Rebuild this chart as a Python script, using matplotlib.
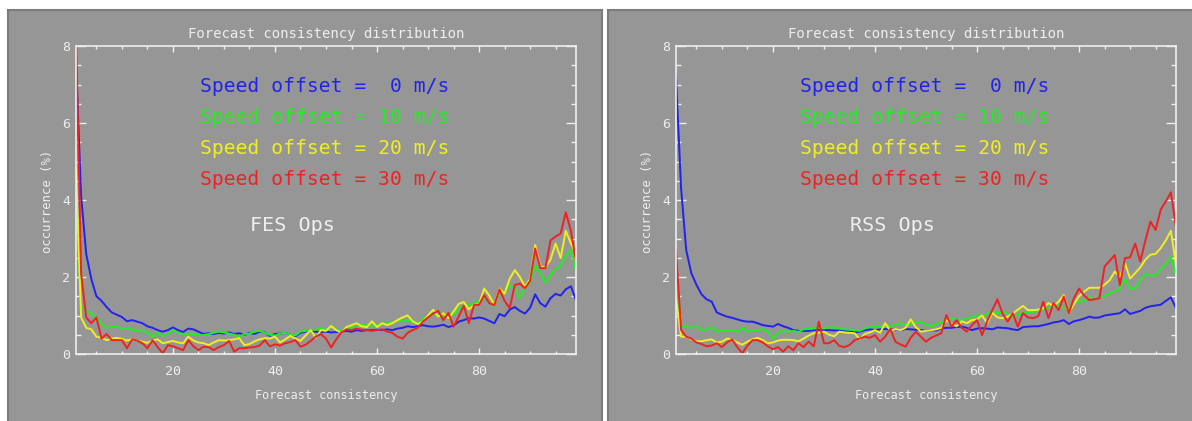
import numpy as np
import matplotlib
matplotlib.use("Agg")
import matplotlib.pyplot as plt
from matplotlib.patches import Rectangle
from matplotlib.ticker import MultipleLocator

# forecast consistency bins
consistency = np.arange(1, 100)

offsets = [0, 10, 20, 30]
line_colors = ["#2222ee", "#22ee22", "#eeee22", "#ee2222"]

# FES Ops occurrence (%)
fes_0 = [7.6, 4.1, 2.6, 1.95, 1.5, 1.38, 1.22, 1.08, 1.02, 0.96,
         0.85, 0.88, 0.84, 0.80, 0.72, 0.68, 0.62, 0.58, 0.62, 0.69,
         0.62, 0.57, 0.66, 0.64, 0.58, 0.52, 0.54, 0.52, 0.55, 0.53,
         0.56, 0.52, 0.54, 0.50, 0.55, 0.52, 0.58, 0.56, 0.47, 0.52,
         0.53, 0.55, 0.50, 0.46, 0.55, 0.58, 0.60, 0.58, 0.57, 0.58,
         0.56, 0.57, 0.58, 0.60, 0.58, 0.62, 0.60, 0.62, 0.62, 0.63,
         0.62, 0.64, 0.62, 0.66, 0.68, 0.72, 0.70, 0.72, 0.75, 0.72,
         0.71, 0.73, 0.76, 0.70, 0.74, 0.84, 0.88, 0.93, 0.92, 0.95,
         0.92, 0.86, 0.80, 1.04, 0.98, 1.15, 1.22, 1.12, 1.05, 1.20,
         1.55, 1.32, 1.23, 1.45, 1.56, 1.52, 1.68, 1.76, 1.40]
fes_10 = [3.9, 1.25, 1.12, 1.05, 0.95, 0.78, 0.68, 0.70, 0.72, 0.66,
          0.68, 0.63, 0.62, 0.60, 0.57, 0.44, 0.56, 0.46, 0.53, 0.62,
          0.55, 0.52, 0.53, 0.52, 0.50, 0.49, 0.52, 0.55, 0.58, 0.56,
          0.53, 0.50, 0.45, 0.52, 0.53, 0.58, 0.60, 0.55, 0.50, 0.48,
          0.53, 0.55, 0.50, 0.48, 0.58, 0.60, 0.62, 0.63, 0.66, 0.62,
          0.73, 0.63, 0.62, 0.66, 0.70, 0.68, 0.77, 0.75, 0.74, 0.76,
          0.78, 0.80, 0.82, 0.86, 0.85, 0.88, 0.82, 0.80, 0.92, 0.98,
          1.04, 0.98, 1.00, 1.06, 1.02, 1.18, 1.25, 1.28, 1.32, 1.38,
          1.48, 1.35, 1.24, 1.62, 1.58, 1.78, 1.74, 1.45, 1.72, 1.85,
          2.30, 2.10, 1.85, 2.05, 2.20, 2.30, 2.55, 2.72, 2.15]
fes_20 = [4.8, 0.95, 0.68, 0.64, 0.45, 0.42, 0.36, 0.40, 0.42, 0.39,
          0.35, 0.38, 0.35, 0.32, 0.29, 0.35, 0.38, 0.28, 0.31, 0.34,
          0.30, 0.28, 0.45, 0.35, 0.30, 0.28, 0.23, 0.30, 0.36, 0.35,
          0.36, 0.38, 0.41, 0.23, 0.26, 0.33, 0.38, 0.41, 0.40, 0.45,
          0.30, 0.38, 0.47, 0.40, 0.34, 0.48, 0.62, 0.42, 0.62, 0.60,
          0.73, 0.62, 0.55, 0.70, 0.75, 0.80, 0.72, 0.70, 0.85, 0.70,
          0.80, 0.75, 0.80, 0.88, 0.95, 1.00, 0.85, 0.78, 0.84, 1.00,
          1.15, 0.97, 1.06, 0.93, 1.10, 1.30, 1.35, 1.16, 1.27, 1.30,
          1.70, 1.52, 1.28, 1.70, 1.57, 1.95, 2.18, 2.00, 1.75, 1.95,
          2.83, 2.27, 2.25, 2.45, 2.87, 2.49, 3.20, 2.87, 2.60]
fes_30 = [8.4, 2.1, 0.95, 0.80, 0.95, 0.40, 0.52, 0.36, 0.36, 0.36,
          0.15, 0.38, 0.35, 0.28, 0.15, 0.36, 0.18, 0.02, 0.23, 0.20,
          0.15, 0.10, 0.36, 0.20, 0.10, 0.19, 0.18, 0.10, 0.18, 0.23,
          0.34, 0.06, 0.15, 0.15, 0.17, 0.18, 0.22, 0.36, 0.20, 0.25,
          0.22, 0.28, 0.31, 0.36, 0.19, 0.24, 0.34, 0.45, 0.52, 0.40,
          0.17, 0.38, 0.56, 0.64, 0.62, 0.66, 0.63, 0.62, 0.60, 0.62,
          0.64, 0.58, 0.55, 0.45, 0.40, 0.55, 0.62, 0.68, 0.84, 0.95,
          1.05, 1.12, 0.88, 1.07, 0.71, 0.97, 1.25, 0.80, 1.27, 1.28,
          1.53, 1.32, 1.27, 1.68, 1.38, 1.19, 1.79, 1.83, 1.71, 1.90,
          2.74, 2.23, 2.23, 2.95, 3.05, 3.13, 3.68, 3.20, 2.40]

# RSS Ops occurrence (%)
rss_0 = [7.2, 4.3, 2.7, 2.1, 1.8, 1.55, 1.42, 1.36, 1.08, 1.02,
         0.97, 0.94, 0.90, 0.86, 0.84, 0.84, 0.80, 0.75, 0.73, 0.71,
         0.78, 0.72, 0.68, 0.62, 0.60, 0.60, 0.60, 0.62, 0.63, 0.62,
         0.62, 0.61, 0.62, 0.60, 0.59, 0.56, 0.58, 0.62, 0.64, 0.62,
         0.64, 0.65, 0.63, 0.64, 0.62, 0.65, 0.64, 0.63, 0.62, 0.60,
         0.62, 0.61, 0.66, 0.68, 0.68, 0.70, 0.71, 0.68, 0.62, 0.66,
         0.67, 0.66, 0.64, 0.69, 0.68, 0.67, 0.64, 0.62, 0.70, 0.71,
         0.72, 0.72, 0.75, 0.78, 0.82, 0.84, 0.88, 0.78, 0.85, 0.88,
         0.92, 0.97, 0.94, 0.95, 1.00, 1.02, 1.04, 1.06, 1.16, 1.04,
         1.08, 1.12, 1.20, 1.24, 1.26, 1.28, 1.38, 1.47, 1.19]
rss_10 = [1.80, 0.72, 0.72, 0.68, 0.72, 0.62, 0.64, 0.70, 0.57, 0.62,
          0.60, 0.63, 0.57, 0.68, 0.58, 0.62, 0.62, 0.65, 0.58, 0.40,
          0.55, 0.60, 0.58, 0.60, 0.57, 0.64, 0.65, 0.66, 0.68, 0.66,
          0.70, 0.68, 0.66, 0.64, 0.63, 0.62, 0.60, 0.66, 0.70, 0.73,
          0.70, 0.74, 0.72, 0.76, 0.80, 0.76, 0.78, 0.82, 0.84, 0.76,
          0.72, 0.78, 0.82, 0.88, 0.92, 0.90, 0.88, 0.92, 0.97, 1.00,
          0.98, 1.05, 1.10, 1.06, 1.10, 1.04, 0.97, 1.02, 1.07, 1.08,
          1.10, 1.12, 1.16, 1.20, 1.24, 1.27, 1.20, 1.20, 1.32, 1.36,
          1.38, 1.48, 1.45, 1.47, 1.50, 1.58, 1.62, 1.70, 1.95, 1.70,
          1.70, 1.92, 2.08, 2.04, 2.04, 2.20, 2.34, 2.52, 2.02]
rss_20 = [1.45, 0.45, 0.45, 0.38, 0.33, 0.33, 0.36, 0.38, 0.30, 0.32,
          0.40, 0.37, 0.30, 0.24, 0.32, 0.38, 0.42, 0.36, 0.28, 0.30,
          0.35, 0.37, 0.37, 0.36, 0.33, 0.40, 0.48, 0.54, 0.55, 0.58,
          0.50, 0.46, 0.58, 0.56, 0.55, 0.54, 0.38, 0.52, 0.56, 0.62,
          0.55, 0.80, 0.60, 0.65, 0.62, 0.68, 0.90, 0.70, 0.58, 0.60,
          0.62, 0.64, 0.68, 0.88, 0.78, 0.72, 0.85, 0.80, 0.88, 0.90,
          1.00, 0.80, 1.07, 0.95, 0.93, 0.97, 1.05, 1.15, 1.25, 1.14,
          1.14, 1.15, 1.20, 1.32, 1.25, 1.36, 1.53, 1.06, 1.30, 1.50,
          1.62, 1.72, 1.72, 1.72, 1.80, 1.92, 2.14, 2.00, 2.36, 1.96,
          2.10, 2.25, 2.45, 2.58, 2.60, 2.75, 2.95, 3.20, 2.30]
rss_30 = [2.70, 0.62, 0.45, 0.40, 0.30, 0.26, 0.20, 0.22, 0.28, 0.18,
          0.30, 0.38, 0.18, 0.02, 0.22, 0.36, 0.36, 0.30, 0.20, 0.12,
          0.18, 0.06, 0.20, 0.10, 0.28, 0.18, 0.32, 0.20, 0.84, 0.28,
          0.28, 0.36, 0.21, 0.18, 0.23, 0.36, 0.40, 0.45, 0.42, 0.49,
          0.32, 0.45, 0.65, 0.32, 0.25, 0.19, 0.42, 0.58, 0.45, 0.32,
          0.42, 0.48, 0.54, 1.01, 0.71, 0.88, 0.68, 0.58, 0.75, 0.88,
          0.49, 0.85, 1.14, 1.42, 1.05, 0.84, 1.06, 0.71, 1.06, 0.95,
          0.93, 0.98, 1.36, 0.93, 1.32, 1.14, 1.49, 1.06, 1.45, 1.70,
          1.52, 1.40, 1.42, 1.45, 2.27, 2.42, 2.57, 1.79, 2.49, 2.51,
          2.87, 2.40, 2.95, 3.44, 3.22, 3.75, 3.96, 4.20, 3.30]

panels = [("FES Ops", [fes_0, fes_10, fes_20, fes_30]),
          ("RSS Ops", [rss_0, rss_10, rss_20, rss_30])]

W, H = 1192, 421
bg = "#969696"
fg = "#eeeeee"
mono = "DejaVu Sans Mono"


def fx(px):
    return px / W


def fy(py):
    return 1 - py / H


fig = plt.figure(figsize=(W / 100, H / 100), dpi=100, facecolor="white")

for i, (name, series) in enumerate(panels):
    dx = 600 * i
    # grey panel behind each plot (runs off the bottom edge)
    pw = 594 if i == 0 else 600
    fig.patches.append(Rectangle((fx(8 + dx), -0.05), fx(pw), fy(10) + 0.05,
                                 transform=fig.transFigure, facecolor=bg,
                                 edgecolor="#7c7c7c", lw=1.5, zorder=-1))

    ax = fig.add_axes([fx(76 + dx), fy(354), fx(500), fy(46) - fy(354)])
    ax.set_facecolor("none")
    for vals, col in zip(series, line_colors):
        ax.plot(consistency, vals, color=col, lw=1.4)

    ax.set_xlim(1, 99)
    ax.set_ylim(0, 8)
    ax.xaxis.set_major_locator(MultipleLocator(20))
    ax.xaxis.set_minor_locator(MultipleLocator(5))
    ax.yaxis.set_major_locator(MultipleLocator(2))
    ax.yaxis.set_minor_locator(MultipleLocator(0.5))
    ax.tick_params(which="both", direction="in", top=True, right=True,
                   colors=fg, width=1.0, labelsize=9.5)
    ax.tick_params(axis="x", which="major", length=4.4, pad=8)
    ax.tick_params(axis="x", which="minor", length=2.2)
    ax.tick_params(axis="y", which="major", length=7.2, pad=4)
    ax.tick_params(axis="y", which="minor", length=3.6)
    for lab in ax.get_xticklabels() + ax.get_yticklabels():
        lab.set_fontfamily(mono)
    ylabs = ax.get_yticklabels()
    ylabs[0].set_va("bottom")
    ylabs[-1].set_va("top")
    for sp in ax.spines.values():
        sp.set_color(fg)
        sp.set_linewidth(1.2)

    fig.text(fx(326 + dx), fy(38), "Forecast consistency distribution", ha="center",
             va="baseline", color=fg, fontsize=10.1, family=mono)
    fig.text(fx(326 + dx), fy(396), "Forecast consistency", ha="center", va="center",
             color=fg, fontsize=8.6, family=mono)
    fig.text(fx(48 + dx), fy(201), "occurrence (%)", ha="center", va="center",
             rotation=90, color=fg, fontsize=8.8, family=mono)

    for k, (off, col) in enumerate(zip(offsets, line_colors)):
        fig.text(fx(200 + dx), fy(92 + 31 * k), "Speed offset = %2d m/s" % off,
                 ha="left", va="baseline", color=col, fontsize=14.1, family=mono)
    fig.text(fx(250 + dx), fy(231), name, ha="left", va="baseline", color=fg,
             fontsize=14.5, family=mono)

fig.savefig("out.png", dpi=100, facecolor="white")
